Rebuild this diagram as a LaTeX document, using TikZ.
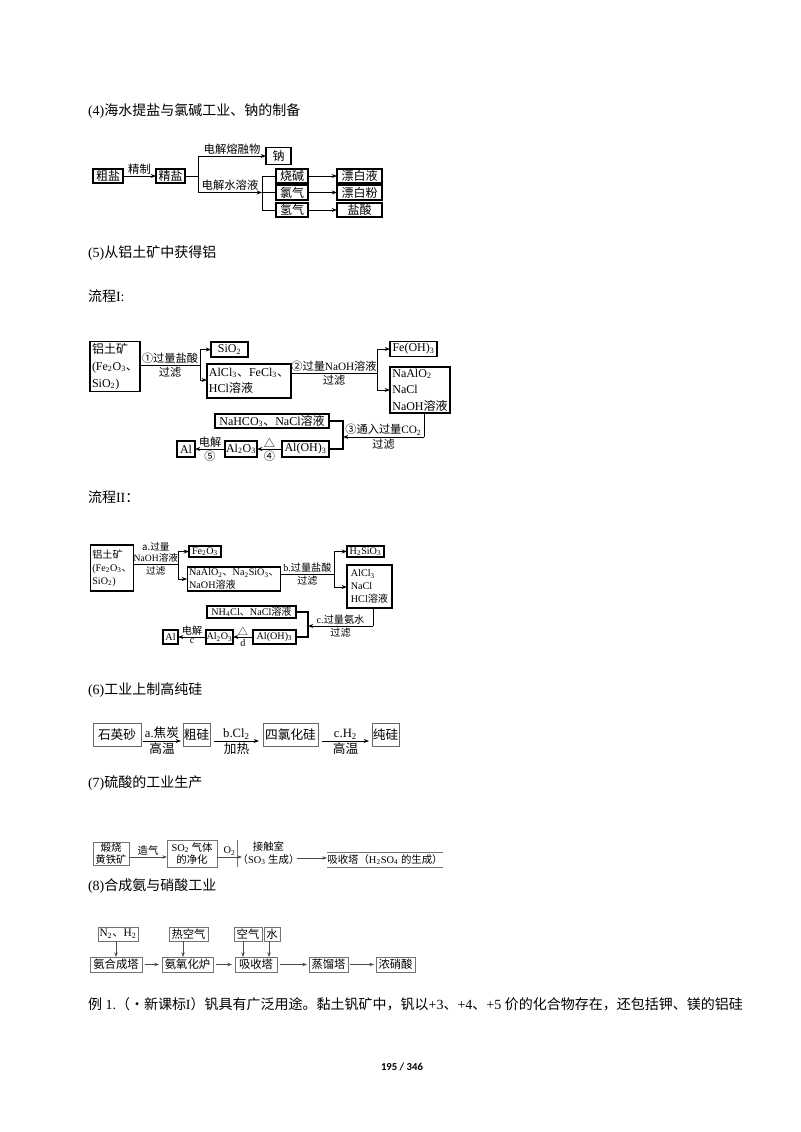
\documentclass[tikz,border=0pt]{standalone}
\usepackage{fontspec}
\setmainfont{Liberation Serif}
\newfontfamily\cjk{Noto Sans CJK SC}
\newfontfamily\pgfont{Carlito}
\usetikzlibrary{arrows.meta}
\newdimen\px \px=0.75pt
\newcommand\zh[1]{{\cjk #1}}
\newcommand\chs[1]{\textsubscript{#1}}
\newcommand\fzHd{\fontsize{10.5}{12}\selectfont}
\newcommand\fzA{\fontsize{9}{11}\selectfont}
\newcommand\fzAl{\fontsize{8.5}{10}\selectfont}
\newcommand\fzB{\fontsize{9}{12.4}\selectfont}
\newcommand\fzBl{\fontsize{8.4}{10}\selectfont}
\newcommand\fzC{\fontsize{7.6}{9.6}\selectfont}
\newcommand\fzCl{\fontsize{7.2}{8.4}\selectfont}
\newcommand\fzD{\fontsize{9.5}{11}\selectfont}
\newcommand\fzE{\fontsize{7.8}{9.5}\selectfont}
\newcommand\fzF{\fontsize{8.5}{10}\selectfont}
\begin{document}
\begin{tikzpicture}[x=0.75pt,y=-0.75pt,
  every node/.style={inner sep=0pt, outer sep=0pt},
  bx/.style={draw, line width=0.9pt, align=center},
  bxl/.style={draw, line width=0.9pt, align=left, inner xsep=1.5pt},
  bxt/.style={draw, line width=1.4pt, align=center},
  gb/.style={draw=black!55, line width=0.7pt, align=center},
  arr/.style={line width=0.7pt, -{Stealth[length=4pt,width=3pt]}},
  garr/.style={line width=0.6pt, draw=black!70, -{Stealth[length=3.5pt,width=2.6pt]}},
  ln/.style={line width=0.7pt},
  tk/.style={line width=1.3pt},
  hd/.style={anchor=west, font=\fzHd},
  lb/.style={inner sep=1.5pt},
]
\useasboundingbox[fill=white] (0,0) rectangle (800,1132);

% ---------- headings ----------
\node[hd] (h4) at (88,111) {(4)\zh{海水提盐与氯碱工业、钠的制备}};
\node[hd] (h5) at (88,253) {(5)\zh{从铝土矿中获得铝}};
\node[hd] (h5a) at (88,296) {\zh{流程}I:};
\node[hd] (h5b) at (88,497) {\zh{流程}II\zh{：}};
\node[hd] (h6) at (88,690) {(6)\zh{工业上制高纯硅}};
\node[hd] (h7) at (88,783) {(7)\zh{硫酸的工业生产}};
\node[hd] (h8) at (88,886) {(8)\zh{合成氨与硝酸工业}};
\node[hd] (ex) at (88,1004) {\zh{例} 1.\zh{（·新课标}I\zh{）钒具有广泛用途。黏土钒矿中，钒以}+3\zh{、}+4\zh{、}+5 \zh{价的化合物存在，还包括钾、镁的铝硅}};
\node[font=\pgfont\bfseries\fontsize{8}{9}\selectfont] (pg) at (402,1067) {195 / 346};

% ---------- (4) ----------
\begin{scope}[font=\fzA]
\node[bxt, minimum width=30\px, minimum height=14\px] (cuyan) at (108,176) {\zh{粗盐}};
\node[bxt, minimum width=29\px, minimum height=14\px] (jingyan) at (170.5,176) {\zh{精盐}};
\node[bxt, minimum width=25\px, minimum height=17\px] (na) at (278.5,156) {\zh{钠}};
\node[bx, minimum width=32\px, minimum height=14\px] (shaojian) at (292,176) {\zh{烧碱}};
\node[bx, minimum width=32\px, minimum height=15\px] (lvqi) at (292,192.5) {\zh{氯气}};
\node[bx, minimum width=32\px, minimum height=14\px] (qingqi) at (292,210) {\zh{氢气}};
\node[bx, minimum width=45\px, minimum height=14\px] (pbye) at (359.5,176) {\zh{漂白液}};
\node[bx, minimum width=45\px, minimum height=15\px] (pbfen) at (359.5,192.5) {\zh{漂白粉}};
\node[bx, minimum width=45\px, minimum height=14\px] (yansuan) at (359.5,210) {\zh{盐酸}};
\end{scope}
\coordinate (j1) at (198,176);
\coordinate (j1t) at (198,156);
\coordinate (j1b) at (198,192.5);
\coordinate (j2) at (262,192.5);
\coordinate (j2t) at (262,176);
\coordinate (j2b) at (262,210);
\draw[arr] (cuyan) -- node[lb, above, font=\fzAl] {\zh{精制}} (jingyan);
\draw[ln] (jingyan) -- (j1);
\draw[ln] (j1t) -- (j1b);
\draw[arr] (j1t) -- node[lb, above, font=\fzAl] {\zh{电解熔融物}} (na.west |- j1t);
\draw[arr] (j1b) -- node[lb, above, font=\fzAl] {\zh{电解水溶液}} (j2);
\draw[ln] (j2t) -- (j2b);
\draw[ln] (j2t) -- (shaojian.west);
\draw[ln] (j2) -- (lvqi.west);
\draw[ln] (j2b) -- (qingqi.west);
\draw[arr] (shaojian) -- (pbye);
\draw[arr] (lvqi) -- (pbfen);
\draw[arr] (qingqi) -- (yansuan);

% ---------- Process I ----------
\begin{scope}[font=\fzB]
\node[bxl, minimum width=44.6\px, minimum height=50\px] (lt1) at (115,366.7) {\zh{铝土矿}\\(Fe\chs{2}O\chs{3}\zh{、}\\SiO\chs{2})};
\node[bx, minimum width=37\px, minimum height=15\px] (sio2) at (229.5,349.5) {SiO\chs{2}};
\node[bxl, minimum width=76\px, minimum height=34\px] (alcl) at (249,381) {AlCl\chs{3}\zh{、}FeCl\chs{3}\zh{、}\\HCl\zh{溶液}};
\node[bx, minimum width=47\px, minimum height=15\px] (feoh) at (413.5,349) {Fe(OH)\chs{3}};
\node[bxl, minimum width=60\px, minimum height=46\px] (naalo) at (420,390) {NaAlO\chs{2}\\NaCl\\NaOH\zh{溶液}};
\node[bx, minimum width=114\px, minimum height=14\px] (nahco) at (272,421) {NaHCO\chs{3}\zh{、}NaCl\zh{溶液}};
\node[bx, minimum width=47\px, minimum height=16\px] (aloh) at (305.5,449) {Al(OH)\chs{3}};
\node[bx, minimum width=32\px, minimum height=16\px] (alo) at (241,449) {Al\chs{2}O\chs{3}};
\node[bx, minimum width=18\px, minimum height=16\px] (al) at (186,449) {Al};
\end{scope}
\coordinate (p1a) at (200,365);
\coordinate (p1t) at (200,349.5);
\coordinate (p1b) at (200,380);
\coordinate (p2s) at (alcl.east |- 0,373);
\coordinate (p2a) at (377,373);
\coordinate (p2t) at (377,349);
\coordinate (p2b) at (377,390);
\coordinate (p3a) at (424,437);
\coordinate (p3b) at (343,437);
\coordinate (p3t) at (343,421);
\coordinate (p3d) at (343,449);
\draw[ln] (lt1.east |- p1a) -- node[lb, above, font=\fzBl] {\zh{①过量盐酸}} node[lb, below, font=\fzBl] {\zh{过滤}} (p1a);
\draw[ln] (p1t) -- (p1b);
\draw[arr] (p1t) -- (sio2.west);
\draw[arr] (p1b) -- (alcl.west |- p1b);
\draw[ln] (p2s) -- node[lb, above, font=\fzBl] {\zh{②过量}NaOH\zh{溶液}} node[lb, below, font=\fzBl] {\zh{过滤}} (p2a);
\draw[ln] (p2t) -- (p2b);
\draw[arr] (p2t) -- (feoh.west);
\draw[arr] (p2b) -- (naalo.west);
\draw[ln] (naalo.south -| p3a) -- (p3a);
\draw[arr] (p3a) -- node[lb, above, font=\fzBl] {\zh{③通入过量}CO\chs{2}} node[lb, below, font=\fzBl] {\zh{过滤}} (p3b);
\draw[tk] (nahco.east) -- (p3t) -- (p3d) -- (aloh.east);
\draw[arr] (aloh) -- node[lb, above, font=\fzBl] {\zh{△}} node[lb, below, font=\fzBl] {\zh{④}} (alo);
\draw[arr] (alo) -- node[lb, above, font=\fzBl] {\zh{电解}} node[lb, below, font=\fzBl] {\zh{⑤}} (al);

% ---------- Process II ----------
\begin{scope}[font=\fzC]
\node[bxl, minimum width=40\px, minimum height=46\px] (lt2) at (112,568) {\zh{铝土矿}\\(Fe\chs{2}O\chs{3}\zh{、}\\SiO\chs{2})};
\node[bx, minimum width=32\px, minimum height=11\px] (fe2o3) at (205,551.5) {Fe\chs{2}O\chs{3}};
\node[bxl, minimum width=90\px, minimum height=24\px] (na2) at (234,579) {NaAlO\chs{2}\zh{、}Na\chs{2}SiO\chs{3}\zh{、}\\NaOH\zh{溶液}};
\node[bx, minimum width=37\px, minimum height=11\px] (h2sio3) at (365.5,551.5) {H\chs{2}SiO\chs{3}};
\node[bxl, minimum width=45\px, minimum height=43\px] (alcl2) at (369.5,586.5) {AlCl\chs{3}\\NaCl\\HCl\zh{溶液}};
\node[bx, minimum width=89\px, minimum height=12\px] (nh4cl) at (251.5,612) {NH\chs{4}Cl\zh{、}NaCl\zh{溶液}};
\node[bx, minimum width=43\px, minimum height=14\px] (aloh2) at (274.5,637) {Al(OH)\chs{3}};
\node[bx, minimum width=27\px, minimum height=14\px] (alo2) at (219.5,637) {Al\chs{2}O\chs{3}};
\node[bx, minimum width=15\px, minimum height=14\px] (al2) at (170.5,637) {Al};
\end{scope}
\coordinate (q1a) at (178,564);
\coordinate (q1t) at (178,551.5);
\coordinate (q1b) at (178,579);
\coordinate (q2s) at (na2.east |- 0,574);
\coordinate (q2a) at (334,574);
\coordinate (q2t) at (334,551.5);
\coordinate (q2b) at (334,587);
\coordinate (q3a) at (373,626);
\coordinate (q3b) at (308,626);
\coordinate (q3t) at (308,612);
\coordinate (q3d) at (308,637);
\draw[ln] (lt2.east |- q1a) -- node[lb, above, font=\fzCl, align=center] {\zh{a.过量}\\NaOH\zh{溶液}} node[lb, below, font=\fzCl] {\zh{过滤}} (q1a);
\draw[ln] (q1t) -- (q1b);
\draw[arr] (q1t) -- (fe2o3.west);
\draw[arr] (q1b) -- (na2.west);
\draw[ln] (q2s) -- node[lb, above, font=\fzC] {b.\zh{过量盐酸}} node[lb, below, font=\fzC] {\zh{过滤}} (q2a);
\draw[ln] (q2t) -- (q2b);
\draw[arr] (q2t) -- (h2sio3.west);
\draw[arr] (q2b) -- (alcl2.west |- q2b);
\draw[ln] (alcl2.south -| q3a) -- (q3a);
\draw[arr] (q3a) -- node[lb, above, font=\fzC] {c.\zh{过量氨水}} node[lb, below, font=\fzC] {\zh{过滤}} (q3b);
\draw[tk] (nh4cl.east) -- (q3t) -- (q3d) -- (aloh2.east);
\draw[arr] (aloh2) -- node[lb, above, font=\fzC] {\zh{△}} node[lb, below, font=\fzC] {d} (alo2);
\draw[arr] (alo2) -- node[lb, above, font=\fzC] {\zh{电解}} node[lb, below, font=\fzC] {c} (al2);

% ---------- (6) ----------
\begin{scope}[font=\fzD]
\node[gb, draw=black!60, minimum width=48\px, minimum height=23\px] (shiying) at (117,734.5) {\zh{石英砂}};
\node[gb, draw=black!60, minimum width=27\px, minimum height=23\px] (cugui) at (196.5,734.5) {\zh{粗硅}};
\node[gb, draw=black!60, minimum width=55\px, minimum height=23\px] (silv) at (290.5,734.5) {\zh{四氯化硅}};
\node[gb, draw=black!60, minimum width=27\px, minimum height=23\px] (chungui) at (385.5,734.5) {\zh{纯硅}};
\end{scope}
\coordinate (s1a) at (143,741); \coordinate (s1b) at (181,741);
\coordinate (s2a) at (214,741); \coordinate (s2b) at (259,741);
\coordinate (s3a) at (322,741); \coordinate (s3b) at (369,741);
\draw[arr] (shiying.east |- s1a) ++(2,0) -- node[lb, above, font=\fzD] {a.\zh{焦炭}} node[lb, below, font=\fzD] {\zh{高温}} (s1b);
\draw[arr] (cugui.east |- s2a) ++(4,0) -- node[lb, above, font=\fzD] {b.Cl\chs{2}} node[lb, below, font=\fzD] {\zh{加热}} (s2b);
\draw[arr] (silv.east |- s3a) ++(4,0) -- node[lb, above, font=\fzD] {c.H\chs{2}} node[lb, below, font=\fzD] {\zh{高温}} (s3b);

% ---------- (7) ----------
\begin{scope}[font=\fzE]
\node[gb, minimum width=36\px, minimum height=23\px] (duan) at (111,853.5) {\zh{煅烧}\\\zh{黄铁矿}};
\node[gb, minimum width=50\px, minimum height=27\px] (so2) at (192,853.5) {SO\chs{2} \zh{气体}\\\zh{的净化}};
\node[align=center, minimum width=53\px, minimum height=27\px] (jc) at (268.5,853.5) {\zh{接触室}\\\zh{（}SO\chs{3} \zh{生成）}};
\node[minimum width=114\px, minimum height=15\px] (xs) at (385,859.5) {\zh{吸收塔（}H\chs{2}SO\chs{4} \zh{的生成）}};
\end{scope}
\draw[draw=black!55, line width=0.7pt] (jc.north west) -- (jc.south west);
\draw[draw=black!55, line width=0.7pt] (xs.north west) -- (xs.north east);
\draw[draw=black!55, line width=0.7pt] (xs.south west) -- (xs.south east);
\coordinate (t1) at (167,857);
\coordinate (t2) at (242,857);
\coordinate (t3) at (327,858);
\draw[garr] (duan.east |- t1) -- node[lb, above, font=\fzE] {\zh{造气}} (t1);
\draw[garr] (so2.east |- t2) -- node[lb, above, font=\fzE] {O\chs{2}} (t2);
\draw[garr] (297,858) -- (t3);

% ---------- (8) ----------
\begin{scope}[font=\fzF]
\node[gb, minimum width=40\px, minimum height=14\px] (n2h2) at (118,934) {N\chs{2}\zh{、}H\chs{2}};
\node[gb, minimum width=52\px, minimum height=15\px] (hc) at (116,964.5) {\zh{氨合成塔}};
\node[gb, minimum width=39\px, minimum height=14\px] (rkq) at (188.5,934) {\zh{热空气}};
\node[gb, minimum width=51\px, minimum height=15\px] (yh) at (187.5,964.5) {\zh{氨氧化炉}};
\node[gb, minimum width=28\px, minimum height=14\px] (kq) at (248,934) {\zh{空气}};
\node[gb, minimum width=16\px, minimum height=14\px] (sh) at (272,934) {\zh{水}};
\node[gb, minimum width=42\px, minimum height=15\px] (xs2) at (256,964.5) {\zh{吸收塔}};
\node[gb, minimum width=39\px, minimum height=15\px] (zl) at (328.5,964.5) {\zh{蒸馏塔}};
\node[gb, minimum width=39\px, minimum height=15\px] (nx) at (395.5,964.5) {\zh{浓硝酸}};
\end{scope}
\coordinate (u1) at (116,941); \coordinate (u2) at (183,941);
\coordinate (u3) at (243,941); \coordinate (u4) at (269,941);
\draw[garr] (u1) -- (u1 |- hc.north);
\draw[garr] (u2) -- (u2 |- yh.north);
\draw[garr] (u3) -- (u3 |- xs2.north);
\draw[garr] (u4) -- (u4 |- xs2.north);
\draw[garr] (hc.east) ++(3,0) -- ([xshift=-3\px]yh.west);
\draw[garr] (yh.east) ++(3,0) -- ([xshift=-3\px]xs2.west);
\draw[garr] (xs2.east) ++(3,0) -- ([xshift=-2\px]zl.west);
\draw[garr] (zl.east) ++(2,0) -- ([xshift=-2\px]nx.west);
\end{tikzpicture}
\end{document}
